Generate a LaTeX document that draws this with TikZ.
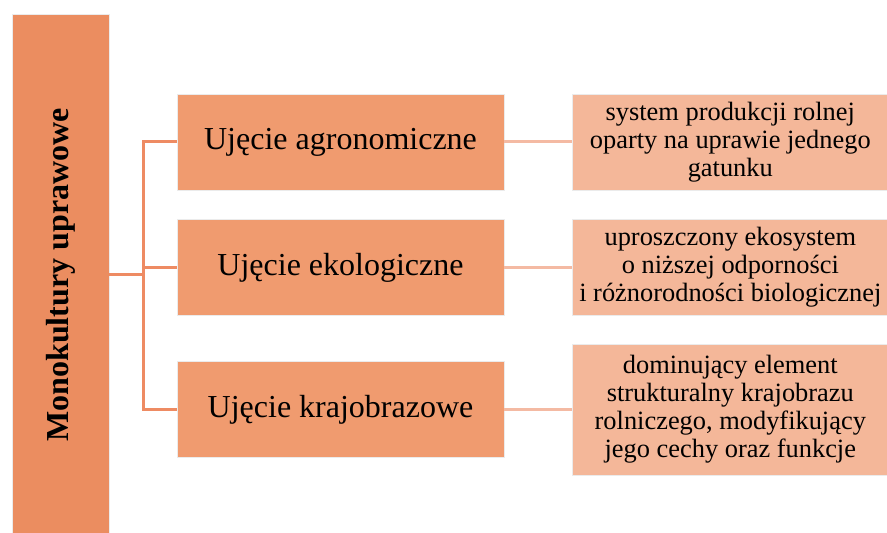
\documentclass[tikz,border=0pt]{standalone}
\usepackage{fontspec}
\setmainfont{Liberation Serif}
\usepackage{tikz}
\usetikzlibrary{positioning}
\definecolor{monoor}{HTML}{EB8D60}
\definecolor{ujor}{HTML}{F09B6F}
\definecolor{defor}{HTML}{F4B799}
\definecolor{linkor}{HTML}{EE8B63}
\definecolor{linklt}{HTML}{F4BAA3}

\begin{document}
\begin{tikzpicture}[x=0.5pt, y=-0.5pt,
  monobox/.style={draw=black!8, fill=monoor, rotate=90, minimum width=261pt,
    minimum height=48.5pt, font=\bfseries\fontsize{16}{19}\selectfont},
  ujbox/.style={draw=black!8, fill=ujor, minimum width=163.5pt, minimum height=48pt,
    font=\fontsize{16}{19}\selectfont},
  defbox/.style={draw=black!8, fill=defor, minimum width=157.5pt, inner sep=1pt,
    align=center, font=\fontsize{13.2}{14}\selectfont},
  trunk/.style={draw=linkor, line width=1.5pt},
  twig/.style={draw=linklt, line width=1.5pt}]
  \clip (0,0) rectangle (887,533);
  \fill[white] (0,0) rectangle (887,533);
  % Main heading
  \node[monobox] (mono) at (60.5,275) {Monokultury uprawowe};
  % Approaches
  \foreach \i/\y/\t in {1/142/agronomiczne, 2/267.5/ekologiczne, 3/409.5/krajobrazowe} {
    \node[ujbox] (uj\i) at (340.5,\y) {Ujęcie \t};
  }
  % Definitions
  \node[defbox, minimum height=48pt, right=34pt of uj1] (def1)
    {system produkcji rolnej\\oparty na uprawie jednego\\gatunku};
  \node[defbox, minimum height=48pt, right=34pt of uj2] (def2)
    {uproszczony ekosystem\\o niższej odporności\\i różnorodności biologicznej};
  \node[defbox, minimum height=65.5pt, right=34pt of uj3] (def3)
    {dominujący element\\strukturalny krajobrazu\\rolniczego, modyfikujący\\jego cechy oraz funkcje};
  % Connectors
  \coordinate (fork) at (143,275);
  \draw[trunk] (mono.south) -- (mono.south -| fork);
  \draw[trunk] (uj1.west) -| (fork) |- (uj3.west);
  \draw[trunk] (fork |- uj2.west) -- (uj2.west);
  \foreach \i in {1,2,3} {
    \draw[twig] (uj\i.east) -- (def\i.west);
  }
\end{tikzpicture}
\end{document}
